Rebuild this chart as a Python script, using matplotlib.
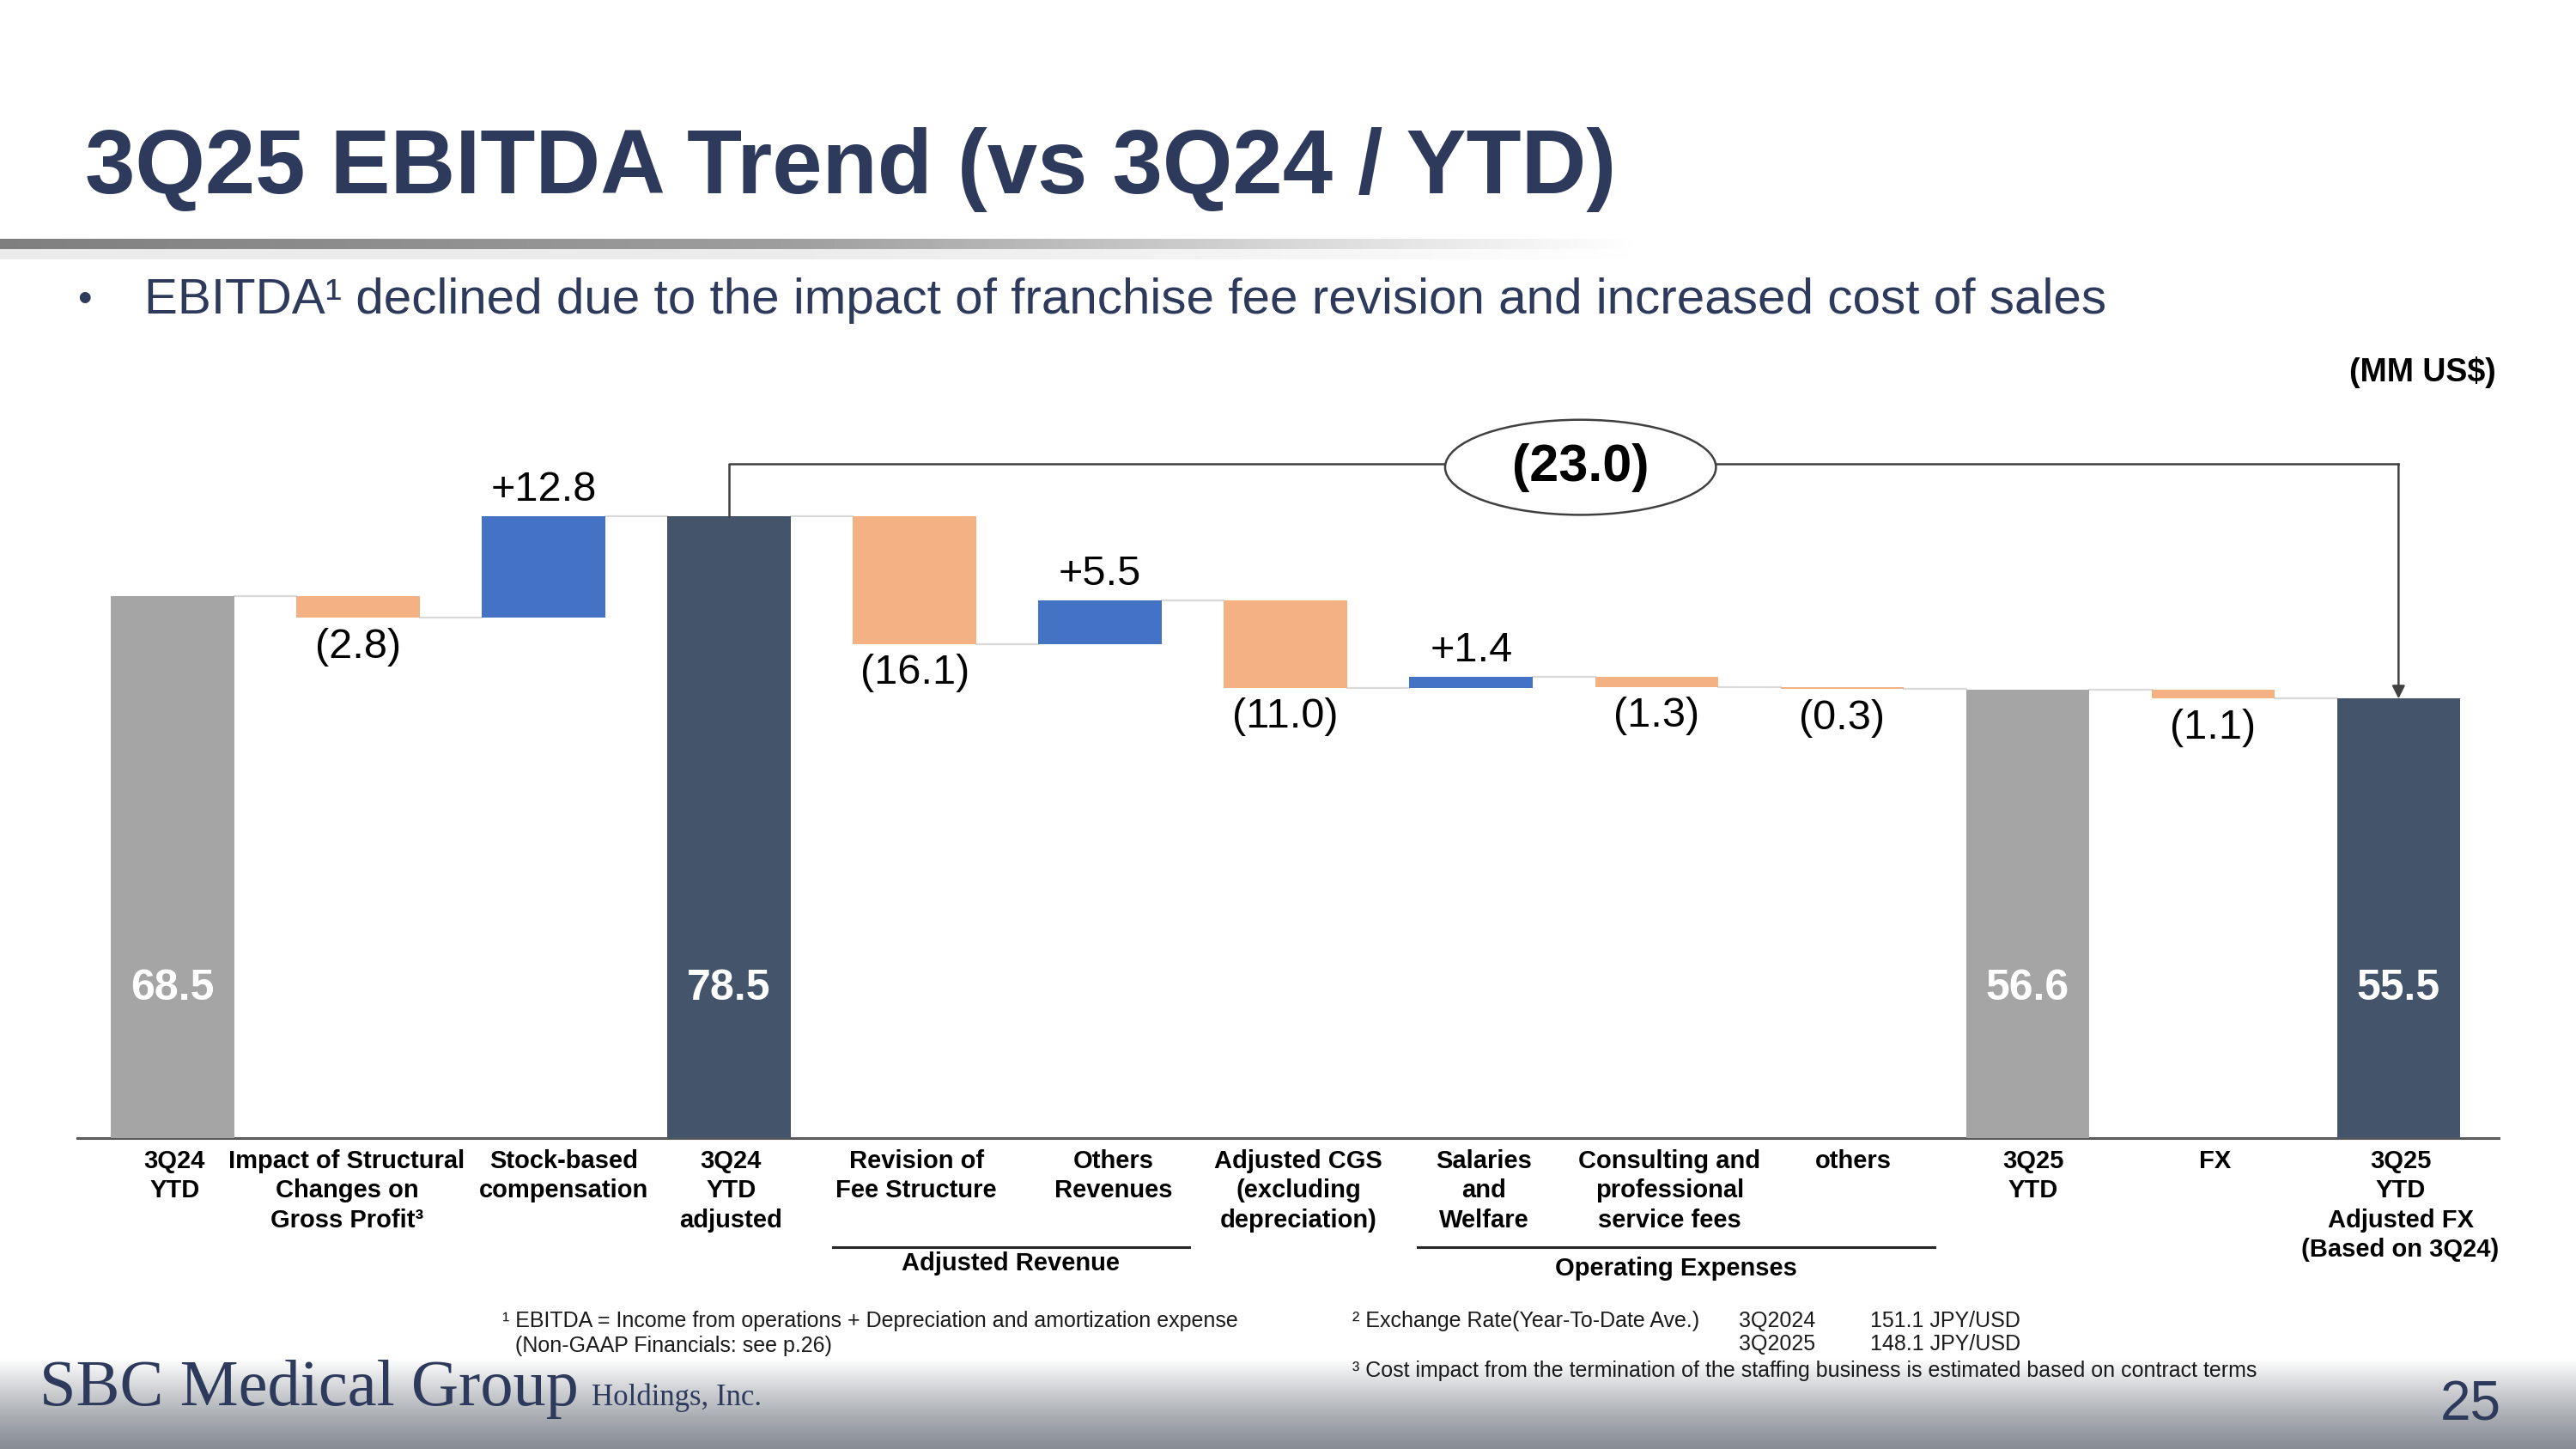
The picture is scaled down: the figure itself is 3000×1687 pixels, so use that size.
import matplotlib
matplotlib.use("Agg")
import matplotlib.pyplot as plt
import numpy as np
from matplotlib.patches import Ellipse
import matplotlib.transforms as mtransforms

plt.rcParams["font.family"] = ["Liberation Sans", "DejaVu Sans"]

# ---- data ----
categories = [
    "3Q24\nYTD",
    "Impact of Structural\nChanges on\nGross Profit³",
    "Stock-based\ncompensation",
    "3Q24\nYTD\nadjusted",
    "Revision of\nFee Structure",
    "Others\nRevenues",
    "Adjusted CGS\n(excluding\ndepreciation)",
    "Salaries\nand\nWelfare",
    "Consulting and\nprofessional\nservice fees",
    "others",
    "3Q25\nYTD",
    "FX",
    "3Q25\nYTD\nAdjusted FX\n(Based on 3Q24)",
]
values = [68.5, -2.8, 12.8, 78.5, -16.1, 5.5, -11.0, 1.4, -1.3, -0.3, 56.6, -1.1, 55.5]
kinds = ["start", "delta", "delta", "total", "delta", "delta", "delta",
         "delta", "delta", "delta", "start", "delta", "total"]
total_change = -23.0

groups = [("Adjusted Revenue", 3.56, 5.48, -0.164), ("Operating Expenses", 6.71, 9.50, -0.171)]

# label boxes on the slide are not exactly centred under the bars
label_shift = [0.01, -0.06, 0.11, 0.01, 0.01, 0.07, 0.07, 0.07, 0.07, 0.06, 0.03, 0.01, 0.01]

colors = {"start": "#A5A5A5", "total": "#44546A", "up": "#4472C4", "down": "#F4B183"}
title_color = "#2E3A5C"

fig = plt.figure(figsize=(30, 16.87), dpi=100)

# bottom gradient band
bg = fig.add_axes([0, 0, 1, 0.062], zorder=0)
grad = np.linspace(0, 1, 200)[:, None] ** 1.2
top_c = np.array([1.0, 1.0, 1.0])
bot_c = np.array([0.53, 0.55, 0.58])
img = bot_c + (top_c - bot_c) * grad
bg.imshow(np.repeat(img[:, None, :], 10, axis=1), aspect="auto", origin="lower",
          extent=[0, 1, 0, 1])
bg.axis("off")

# title underline gradient
ul = fig.add_axes([0, 0.828, 0.635, 0.007], zorder=1)
xg = np.linspace(0, 1, 400)
rgba = np.zeros((1, 400, 4))
rgba[..., 0:3] = 0.50 + 0.25 * xg[None, :, None]
rgba[..., 3] = np.clip(1.25 - 1.25 * xg ** 2.2, 0, 1)
ul.imshow(rgba, aspect="auto", extent=[0, 1, 0, 1])
ul.axis("off")
sh = fig.add_axes([0, 0.821, 0.635, 0.007], zorder=1)
rgba2 = rgba.copy()
rgba2[..., 0:3] = 0.85
rgba2[..., 3] *= 0.5
sh.imshow(rgba2, aspect="auto", extent=[0, 1, 0, 1])
sh.axis("off")

# ---- waterfall ----
ax = fig.add_axes([0.030, 0.2143, 0.940, 0.525], zorder=2)
ax.patch.set_alpha(0)
n = len(values)
x = np.arange(n)
width = 0.664

bottoms, heights, bar_colors, levels = [], [], [], []
running = 0.0
for v, k in zip(values, kinds):
    if k in ("start", "total"):
        bottoms.append(0)
        heights.append(v)
        bar_colors.append(colors[k])
        running = v
    else:
        if v >= 0:
            bottoms.append(running)
            bar_colors.append(colors["up"])
        else:
            bottoms.append(running + v)
            bar_colors.append(colors["down"])
        heights.append(abs(v))
        running += v
    levels.append(running)

ax.bar(x, heights, bottom=bottoms, width=width, color=bar_colors, zorder=3)

# connectors
for i in range(n - 1):
    ax.plot([x[i] + width / 2, x[i + 1] - width / 2], [levels[i], levels[i]],
            color="#D9D9D9", lw=1.6, zorder=2)

# value labels
for i, (v, k) in enumerate(zip(values, kinds)):
    if k in ("start", "total"):
        ax.text(x[i], 18.9, f"{v:.1f}", ha="center", va="center", color="white",
                fontsize=36, fontweight="bold", zorder=4)
    elif v >= 0:
        ax.text(x[i], bottoms[i] + heights[i] + 3.3, f"+{v:.1f}", ha="center",
                va="center", fontsize=35, color="black", zorder=4)
    else:
        ax.text(x[i], bottoms[i] - 3.7, f"({abs(v):.1f})", ha="center",
                va="center", fontsize=35, color="black", zorder=4)

# bracket and total change
y_br = 85.1
i0, i1 = 3, n - 1
ax.plot([x[i0], x[i0], x[i1], x[i1]], [values[i0], y_br, y_br, y_br],
        color="#404040", lw=1.8, zorder=5)
ax.annotate("", xy=(x[i1], values[i1]), xytext=(x[i1], y_br),
            arrowprops=dict(arrowstyle="-|>", color="#404040", lw=1.8,
                            mutation_scale=22, shrinkA=0, shrinkB=0), zorder=5)
ax.add_patch(Ellipse((7.59, 84.7), 1.46, 12.0, facecolor="white",
                     edgecolor="#404040", lw=1.8, zorder=6))
ax.text(7.59, 84.7, f"({abs(total_change):.1f})", ha="center", va="center",
        fontsize=44, fontweight="bold", zorder=7)

ax.set_xlim(-0.514, 12.54)
ax.set_ylim(0, 96)
for s in ["top", "right", "left"]:
    ax.spines[s].set_visible(False)
ax.spines["bottom"].set_color("#595959")
ax.spines["bottom"].set_linewidth(2.2)
ax.set_yticks([])
ax.set_xticks(x + np.array(label_shift))
ax.set_xticklabels(categories, fontsize=21, fontweight="bold", linespacing=1.29, va="top")
ax.tick_params(axis="x", length=0, pad=9)

trans = mtransforms.blended_transform_factory(ax.transData, ax.transAxes)
for name, xa, xb, ty in groups:
    ax.plot([xa, xb], [-0.1425, -0.1425], transform=trans, color="#262626",
            lw=2.2, clip_on=False)
    ax.text((xa + xb) / 2, ty, name, transform=trans, ha="center", va="center",
            fontsize=21, fontweight="bold")

# ---- page text ----
fig.text(0.033, 0.883, "3Q25 EBITDA Trend (vs 3Q24 / YTD)", fontsize=75.5,
         fontweight="bold", color=title_color, va="center")
fig.text(0.030, 0.7925, "•", fontsize=34, color=title_color, va="center")
fig.text(0.056, 0.7925, "EBITDA¹ declined due to the impact of franchise fee revision and increased cost of sales",
         fontsize=42, color=title_color, va="center")
fig.text(0.969, 0.743, "(MM US$)", fontsize=27, fontweight="bold", ha="right", va="center")

fn = dict(fontsize=18, color="#1a1a1a", va="center")
fig.text(0.195, 0.0884, "¹ EBITDA = Income from operations + Depreciation and amortization expense", **fn)
fig.text(0.200, 0.0714, "(Non-GAAP Financials: see p.26)", **fn)
fig.text(0.525, 0.0884, "² Exchange Rate(Year-To-Date Ave.)", **fn)
fig.text(0.675, 0.0884, "3Q2024", **fn)
fig.text(0.726, 0.0884, "151.1 JPY/USD", **fn)
fig.text(0.675, 0.0725, "3Q2025", **fn)
fig.text(0.726, 0.0725, "148.1 JPY/USD", **fn)
fig.text(0.525, 0.0540, "³ Cost impact from the termination of the staffing business is estimated based on contract terms", **fn)

fig.text(0.0153, 0.030, "SBC Medical Group", fontsize=55, family="Liberation Serif",
         color="#2E3A5C", va="baseline")
fig.text(0.2296, 0.030, "Holdings, Inc.", fontsize=25, family="Liberation Serif",
         color="#2E3A5C", va="baseline")
fig.text(0.971, 0.020, "25", fontsize=46, color="#2E3A5C", ha="right", va="baseline")

fig.savefig("out.png", dpi=100)
